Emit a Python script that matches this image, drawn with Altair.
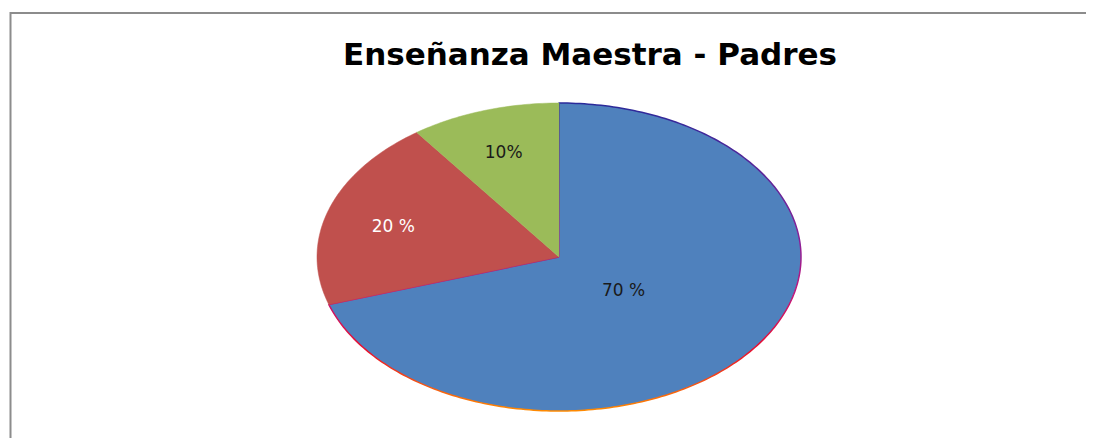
import math
import altair as alt
import pandas as pd

# ---- data ----
title_text = "Enseñanza Maestra - Padres"
categories = ["Categoría 1", "Categoría 2", "Categoría 3"]
values = [70, 20, 10]
label_texts = ["70 %", "20 %", "10%"]
slice_colors = ["#4F81BD", "#C0504D", "#9BBB59"]
label_colors = ["#1a1a1a", "#ffffff", "#1a1a1a"]
label_radius = [0.33, 0.72, 0.74]

# ---- build pie geometry (unit circle, clockwise from 12 o'clock) ----
total = float(sum(values))
rows, label_rows = [], []
start = 0.0
for cat, v, txt, lc, lr in zip(categories, values, label_texts, label_colors, label_radius):
    a0 = start / total * 2 * math.pi
    a1 = (start + v) / total * 2 * math.pi
    pts = [(0.0, 0.0)]
    n = max(4, int(math.degrees(a1 - a0)))
    for i in range(n + 1):
        t = a0 + (a1 - a0) * i / n
        pts.append((math.sin(t), math.cos(t)))
    pts.append((0.0, 0.0))
    for k, (x, y) in enumerate(pts):
        rows.append({"category": cat, "order": k, "x": x, "y": y})
    m = (a0 + a1) / 2
    label_rows.append({"category": cat, "label": txt, "color": lc,
                       "x": lr * math.sin(m), "y": lr * math.cos(m)})
    start += v

pie_df = pd.DataFrame(rows)
lab_df = pd.DataFrame(label_rows)

W, H = 1078, 430
xs = alt.Scale(domain=[-2.2769, 2.1777], nice=False, zero=False)
ys = alt.Scale(domain=[-1.1753, 1.6169], nice=False, zero=False)

edge_grad = alt.LinearGradient(
    gradient="linear", x1=0, y1=0, x2=0, y2=1,
    stops=[alt.GradientStop(offset=0.0, color="#2A2A9A"),
           alt.GradientStop(offset=0.45, color="#8A2098"),
           alt.GradientStop(offset=0.62, color="#C4147A"),
           alt.GradientStop(offset=0.8, color="#E8102E"),
           alt.GradientStop(offset=1.0, color="#FF8A00")])

layers = []
border = alt.Chart(alt.Data(values=[{}])).mark_rect(
    filled=False, stroke="#8C8C8C", strokeWidth=2
).encode(x=alt.value(2.5), y=alt.value(5), x2=alt.value(1300), y2=alt.value(800))
layers.append(border)

for i, (cat, col) in enumerate(zip(categories, slice_colors)):
    if i == 0:
        mk = alt.Chart(pie_df).mark_line(fill=col, stroke=edge_grad, strokeWidth=1.5,
                                         strokeJoin="round")
    else:
        mk = alt.Chart(pie_df).mark_line(fill=col, stroke=col, strokeWidth=0.5)
    layers.append(
        mk.encode(
            x=alt.X("x:Q", scale=xs, axis=None),
            y=alt.Y("y:Q", scale=ys, axis=None),
            order="order:Q",
        ).transform_filter(alt.datum.category == cat)
    )

labels = alt.Chart(lab_df).mark_text(
    font="DejaVu Sans", fontSize=17, align="center", baseline="middle", dy=4
).encode(
    x=alt.X("x:Q", scale=xs, axis=None),
    y=alt.Y("y:Q", scale=ys, axis=None),
    text="label:N",
    color=alt.Color("color:N", scale=None),
)
layers.append(labels)

title = alt.Chart(alt.Data(values=[{"t": title_text}])).mark_text(
    font="DejaVu Sans", fontSize=31, fontWeight="bold", align="center",
    baseline="alphabetic", color="#000000"
).encode(x=alt.value(582), y=alt.value(57), text="t:N")
layers.append(title)

chart = alt.layer(*layers).properties(
    width=W, height=H, padding=0,
    autosize=alt.AutoSizeParams(type="none"),
).configure_view(stroke=None)

chart.save("out.html", embed_options={"renderer": "svg", "actions": False})
